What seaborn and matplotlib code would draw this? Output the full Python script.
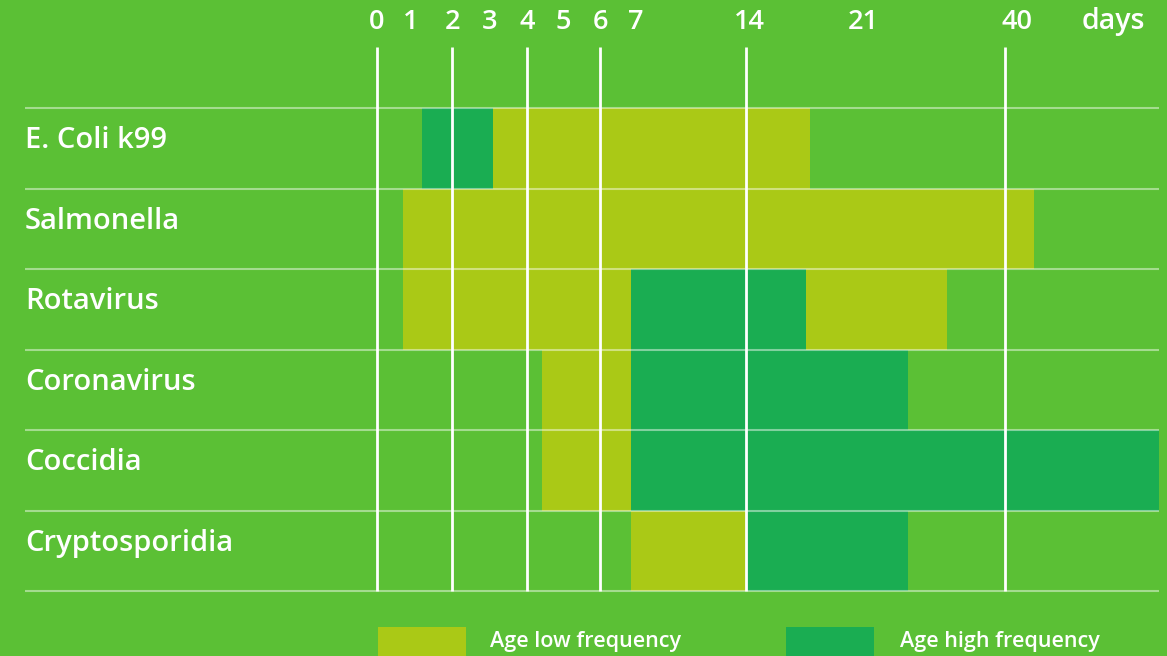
import numpy as np
import pandas as pd
import matplotlib
matplotlib.use("Agg")
import matplotlib.pyplot as plt
import matplotlib.transforms as mtransforms
from matplotlib.patches import Rectangle
import seaborn as sns

# ---------------- data ----------------
diseases = ["E. Coli k99", "Salmonella", "Rotavirus", "Coronavirus", "Coccidia", "Cryptosporidia"]
seg_disease = ["E. Coli k99", "E. Coli k99", "Salmonella",
               "Rotavirus", "Rotavirus", "Rotavirus",
               "Coronavirus", "Coronavirus",
               "Coccidia", "Coccidia",
               "Cryptosporidia", "Cryptosporidia"]
seg_level = ["high", "low", "low",
             "low", "high", "low",
             "low", "high",
             "low", "high",
             "low", "high"]
seg_start = [1.2, 3.1, 0.7, 0.7, 7.0, 17.6, 4.4, 7.0, 4.4, 7.0, 7.0, 14.0]
seg_end = [3.1, 17.8, 43.8, 7.0, 17.6, 32.2, 7.0, 27.0, 7.0, 60.0, 14.0, 27.0]
tick_days = [0, 1, 2, 3, 4, 5, 6, 7, 14, 21, 40]
line_days = [0, 2, 4, 6, 14, 40]
legend_labels = ["Age low frequency", "Age high frequency"]

df = pd.DataFrame({"disease": seg_disease, "level": seg_level,
                   "start": seg_start, "end": seg_end})

# ---------------- style ----------------
BG = "#5BC035"
LOW = "#AAC916"
HIGH = "#1AAD52"
sns.set_theme(style="white")
plt.rcParams["font.family"] = ["Open Sans", "DejaVu Sans"]

W, H = 1167, 656
fig = plt.figure(figsize=(W / 100, H / 100), dpi=100, facecolor=BG)
ax = fig.add_axes([377 / W, 1 - 591 / H, (1159 - 377) / W, (591 - 108) / H])
ax.set_facecolor(BG)

# non-linear day axis (piecewise linear)
anchor_days = np.array([0, 2, 4, 6, 7, 14, 21, 40, 60], dtype=float)
anchor_px = np.array([377, 452, 527, 600, 631, 746, 863, 1005, 1159], dtype=float)
fwd = lambda d: np.interp(d, anchor_days, anchor_px)
inv = lambda p: np.interp(p, anchor_px, anchor_days)
ax.set_xscale("function", functions=(fwd, inv))
ax.set_xlim(0, 60)
ax.set_ylim(len(diseases), 0)

colors = {"low": LOW, "high": HIGH}
row_idx = {d: i for i, d in enumerate(diseases)}
for _, r in df.iterrows():
    ax.barh(row_idx[r["disease"]], r["end"] - r["start"], left=r["start"],
            height=1.0, align="edge", color=colors[r["level"]], linewidth=0, zorder=2)

# horizontal row separators extending to the left margin
btrans = mtransforms.blended_transform_factory(ax.transAxes, ax.transData)
x_left = -(377 - 25) / (1159 - 377)
for i in range(len(diseases) + 1):
    ax.plot([x_left, 1], [i, i], transform=btrans, color="white", alpha=0.45,
            lw=1.5, clip_on=False, zorder=3, solid_capstyle="butt")

# vertical white day lines
vtrans = mtransforms.blended_transform_factory(ax.transData, ax.transAxes)
top_ext = 1 + (108 - 47) / (591 - 108)
for d in line_days:
    ax.plot([d, d], [0, top_ext], transform=vtrans, color="white", lw=2.0,
            clip_on=False, zorder=4, solid_capstyle="butt")

# top day labels (small pixel nudges as in the original artwork)
label_nudge = {1: -4, 7: 5, 14: 3, 40: 12}
lab_y = 1 + (108 - 29) / (591 - 108)
for d in tick_days:
    t = ax.text(d, lab_y, str(d), transform=vtrans, ha="center", va="baseline",
                color="white", fontsize=19.5, fontweight="semibold")
    if d in label_nudge:
        t.set_transform(vtrans + mtransforms.ScaledTranslation(label_nudge[d] / 100, 0,
                                                               fig.dpi_scale_trans))
ax.text((1113 - 377) / (1159 - 377), lab_y, "days", transform=ax.transAxes,
        ha="center", va="baseline", color="white", fontsize=20.5, fontweight="semibold")

# row labels
for i, d in enumerate(diseases):
    ax.text(x_left, i + 0.5, d, transform=btrans, ha="left", va="baseline",
            color="white", fontsize=21, fontweight="semibold")

ax.set_xticks([])
ax.set_yticks([])
for s in ax.spines.values():
    s.set_visible(False)

# legend drawn at the bottom
leg_items = [(378, LOW, 490), (786, HIGH, 900)]
for (x0, col, tx), lab in zip(leg_items, legend_labels):
    fig.add_artist(Rectangle((x0 / W, 0), 88 / W, (656 - 627) / H,
                             transform=fig.transFigure, color=col, lw=0))
    fig.text(tx / W, 1 - 641 / H, lab, ha="left", va="center", color="white",
             fontsize=15.5, fontweight="semibold")

fig.savefig("out.png", dpi=100, facecolor=BG)
